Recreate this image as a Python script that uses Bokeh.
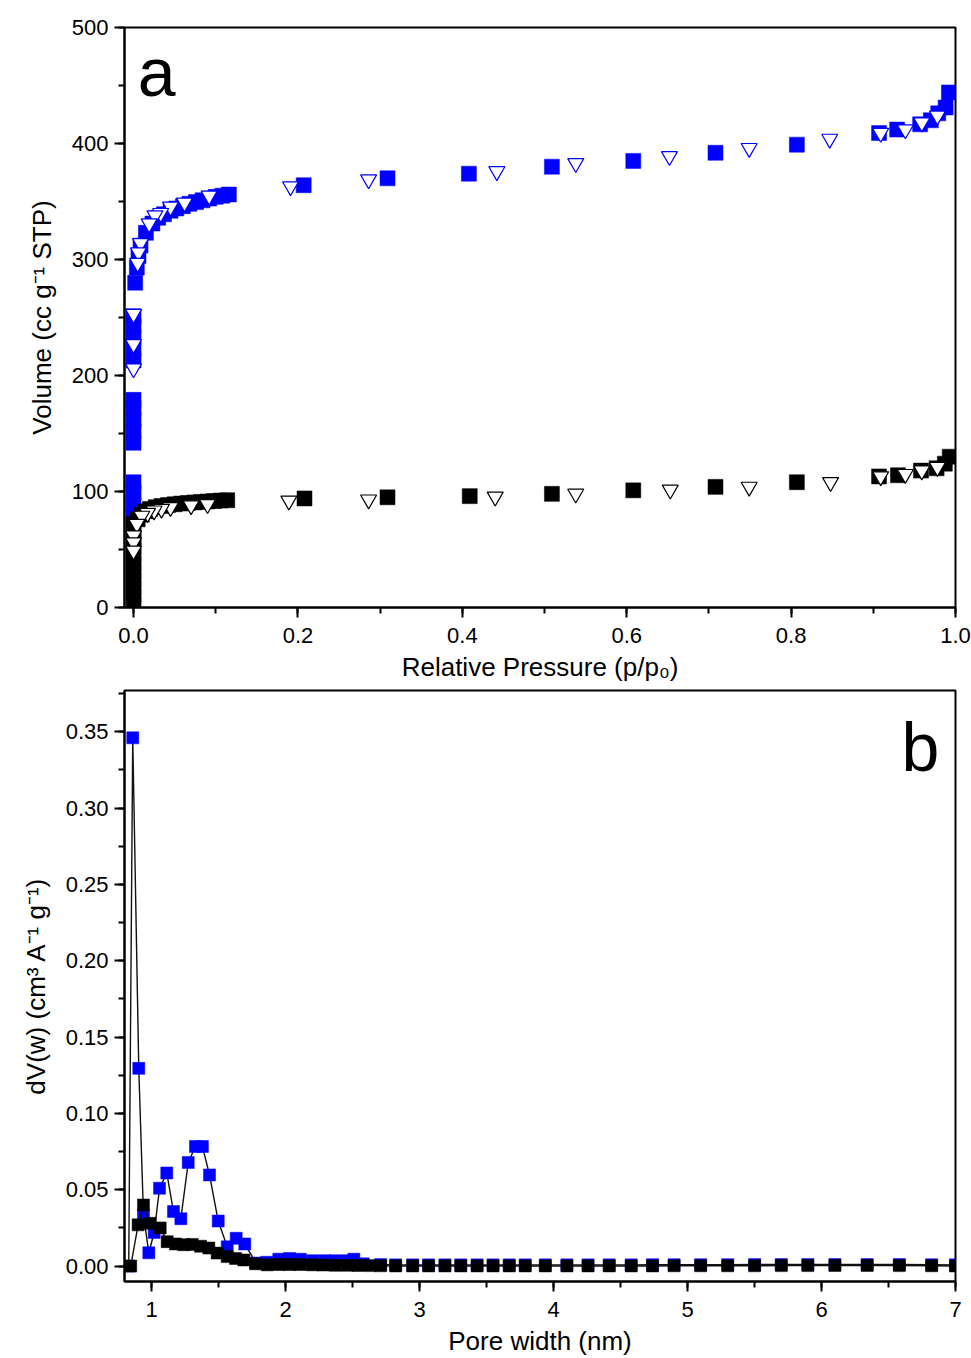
from bokeh.plotting import figure
from bokeh.models import SingleIntervalTicker, Range1d, Label, NumeralTickFormatter
from bokeh.layouts import column
from bokeh.embed import file_html
from bokeh.resources import INLINE

FONT = "Liberation Sans"
BLUE = "#0000FF"

# ---------------- Panel a: N2 isotherms ----------------
blue_ads_p = [0, 0, 0, 0, 0, 0, 0, 0, 0, 0, 0, 0, 0, 0,
              0.002, 0.004, 0.006, 0.0085, 0.015, 0.023, 0.03, 0.037, 0.045, 0.052,
              0.06, 0.068, 0.076, 0.084, 0.092, 0.1, 0.108, 0.116,
              0.207, 0.309, 0.408, 0.509, 0.608, 0.708, 0.807, 0.907, 0.929, 0.957,
              0.97, 0.979, 0.988, 0.992]
blue_ads_v = [79, 89, 99, 108, 142, 152, 162, 172, 179, 213, 223, 233, 243, 251,
              280, 293, 303, 312, 323, 331, 336, 339, 342, 344,
              346, 348, 349.5, 351, 352.5, 354, 355, 356,
              364, 370, 374, 380, 385, 392, 399, 409, 412, 416.5,
              420, 426, 431, 444]

blue_des_p = [0.978, 0.959, 0.939, 0.909, 0.847, 0.749, 0.652, 0.538, 0.442, 0.286,
              0.191, 0.092, 0.062, 0.045, 0.033, 0.026, 0.019, 0.0085, 0.006, 0.005,
              0.0, 0.0, 0.0]
blue_des_v = [424, 418, 412, 409, 404, 396, 389, 383, 376, 369,
              363, 355, 349, 345.5, 340, 338, 331, 314, 306, 297,
              253, 227, 206]

black_ads_p = [0, 0, 0, 0, 0, 0, 0, 0, 0, 0, 0,
               0.005, 0.01, 0.015, 0.02, 0.027, 0.034, 0.042, 0.05, 0.058, 0.066,
               0.074, 0.082, 0.09, 0.098, 0.106, 0.114,
               0.208, 0.309, 0.409, 0.509, 0.608, 0.708, 0.807, 0.907, 0.93, 0.958,
               0.977, 0.987, 0.993]
black_ads_v = [3, 10, 17, 24, 31, 38, 45, 52, 59, 66, 72,
               76, 80, 83, 85, 86.5, 87.5, 88.3, 89, 89.6, 90.1,
               90.6, 91, 91.4, 91.8, 92.2, 92.5,
               94, 95, 96, 98, 101, 104, 108, 113, 114, 118,
               120, 124, 130]

black_des_p = [0.978, 0.959, 0.939, 0.909, 0.848, 0.749, 0.653, 0.538, 0.44, 0.286,
               0.189, 0.09, 0.07, 0.045, 0.034, 0.025, 0.017, 0.01, 0.004,
               0.0, 0.0, 0.0]
black_des_v = [121, 118, 115, 113, 108, 104, 101.5, 98, 95.5, 93,
               92, 89, 88, 86.5, 85, 83.5, 81.5, 79, 72,
               62, 56, 49]

# ---------------- Panel b: pore size distribution ----------------
blue_w = [0.83, 0.86, 0.905, 0.94, 0.98, 1.02, 1.06, 1.114, 1.164, 1.219,
          1.274, 1.328, 1.38, 1.433, 1.498, 1.565, 1.632, 1.696, 1.78, 1.86,
          1.95, 2.03, 2.11, 2.2, 2.29, 2.37, 2.46, 2.51, 2.58, 2.71,
          2.822, 2.949, 3.068, 3.19, 3.308, 3.43, 3.549, 3.67, 3.789, 3.939,
          4.1, 4.258, 4.416, 4.58, 4.739, 4.9, 5.098, 5.3, 5.501, 5.7,
          5.898, 6.1, 6.341, 6.581, 6.822, 7.0]
blue_dv = [0.0, 0.346, 0.1295, 0.0335, 0.0087, 0.022, 0.051, 0.061, 0.0357, 0.031,
           0.0678, 0.0783, 0.0783, 0.0597, 0.0295, 0.0126, 0.0182, 0.0145, 0.002, 0.0025,
           0.0045, 0.005, 0.0045, 0.0035, 0.0035, 0.0035, 0.0035, 0.0045, 0.0015, 0.001,
           0.0008, 0.0008, 0.0008, 0.0008, 0.0008, 0.0008, 0.0008, 0.0008, 0.0008, 0.0008,
           0.0008, 0.0008, 0.0008, 0.0008, 0.0009, 0.0009, 0.0009, 0.0009, 0.001, 0.001,
           0.001, 0.001, 0.001, 0.001, 0.0009, 0.0008]

black_w = [0.845, 0.90, 0.94, 0.99, 1.065, 1.117, 1.179, 1.241, 1.304, 1.366,
           1.428, 1.49, 1.565, 1.627, 1.689, 1.776, 1.863, 1.95, 2.03, 2.11,
           2.2, 2.28, 2.37, 2.46, 2.54, 2.63, 2.71, 2.822, 2.949, 3.068,
           3.19, 3.308, 3.43, 3.549, 3.67, 3.789, 3.939, 4.1, 4.258, 4.416,
           4.58, 4.739, 4.9, 5.098, 5.3, 5.501, 5.7, 5.898, 6.1, 6.341,
           6.581, 6.822, 7.0]
black_dv = [0.0, 0.027, 0.040, 0.028, 0.025, 0.016, 0.0145, 0.014, 0.0142, 0.013,
            0.0118, 0.0085, 0.0062, 0.005, 0.004, 0.0015, 0.0008, 0.001, 0.001, 0.001,
            0.0008, 0.0007, 0.0005, 0.0005, 0.0004, 0.0003, 0.0002, 0.0001, 0.0001, 0.0001,
            0.0001, 0.0001, 0.0001, 0.0001, 0.0001, 0.0001, 0.0001, 0.0001, 0.0001, 0.0001,
            0.0001, 0.0001, 0.0002, 0.0002, 0.0002, 0.0002, 0.0003, 0.0003, 0.0004, 0.0004,
            0.0003, 0.0002, 0.0001]


def style(p):
    p.outline_line_color = "black"
    p.outline_line_width = 2
    p.xgrid.visible = False
    p.ygrid.visible = False
    p.background_fill_color = "white"
    p.border_fill_color = "white"
    for ax in p.axis:
        ax.axis_line_width = 2
        ax.major_tick_line_width = 2
        ax.minor_tick_line_width = 2
        ax.major_tick_out = 10
        ax.major_tick_in = 0
        ax.minor_tick_out = 6
        ax.minor_tick_in = 0
        ax.major_label_text_font = FONT
        ax.major_label_text_font_size = "22px"
        ax.major_label_text_color = "black"
        ax.axis_label_text_font = FONT
        ax.axis_label_text_font_size = "26px"
        ax.axis_label_text_font_style = "normal"
        ax.axis_label_text_color = "black"
    p.xaxis.major_label_standoff = 10
    p.xaxis.axis_label_standoff = 6
    p.yaxis.major_label_standoff = 6
    p.yaxis.axis_label_standoff = 12


# ---- figure a ----
pa = figure(width=971, height=688, output_backend="svg", toolbar_location=None,
            x_range=Range1d(-0.011, 1.0), y_range=Range1d(0, 500),
            min_border_left=124, min_border_right=16, min_border_top=27, min_border_bottom=81)
pa.xaxis.ticker = SingleIntervalTicker(interval=0.2, num_minor_ticks=2)
pa.yaxis.ticker = SingleIntervalTicker(interval=100, num_minor_ticks=2)
pa.xaxis.formatter = NumeralTickFormatter(format="0.0")
pa.yaxis.formatter = NumeralTickFormatter(format="0")
pa.xaxis.axis_label = "Relative Pressure (p/p\u2080)"
pa.yaxis.axis_label = "Volume (cc g\u207b\u00b9 STP)"
style(pa)

pa.scatter(blue_ads_p, blue_ads_v, marker="square", size=15, fill_color=BLUE, line_color=BLUE, line_width=0.5)
pa.scatter(blue_des_p, blue_des_v, marker="inverted_triangle", size=16, fill_color="white", line_color=BLUE, line_width=1.2)
pa.scatter(black_ads_p, black_ads_v, marker="square", size=15, fill_color="black", line_color="black", line_width=0.5)
pa.scatter(black_des_p, black_des_v, marker="inverted_triangle", size=16, fill_color="white", line_color="black", line_width=1.2)
pa.add_layout(Label(x=0.028, y=462, text="a", text_font=FONT, text_font_size="68px",
                    text_align="center", text_baseline="alphabetic", text_color="black"))

# ---- figure b ----
pb = figure(width=971, height=670, output_backend="svg", toolbar_location=None,
            x_range=Range1d(0.7985, 7.0), y_range=Range1d(-0.0101, 0.377),
            min_border_left=124, min_border_right=16, min_border_top=2, min_border_bottom=77)
pb.xaxis.ticker = SingleIntervalTicker(interval=1, num_minor_ticks=2)
pb.yaxis.ticker = SingleIntervalTicker(interval=0.05, num_minor_ticks=2)
pb.xaxis.formatter = NumeralTickFormatter(format="0")
pb.yaxis.formatter = NumeralTickFormatter(format="0.00")
pb.xaxis.axis_label = "Pore width (nm)"
pb.yaxis.axis_label = "dV(w) (cm\u00b3 A\u207b\u00b9 g\u207b\u00b9)"
style(pb)

pb.line(blue_w, blue_dv, line_color="#111111", line_width=1.4)
pb.scatter(blue_w, blue_dv, marker="square", size=12, fill_color=BLUE, line_color=BLUE, line_width=0.5)
pb.line(black_w, black_dv, line_color="#111111", line_width=1.4)
pb.scatter(black_w, black_dv, marker="square", size=12, fill_color="black", line_color="black", line_width=0.5)
pb.add_layout(Label(x=6.739, y=0.3398, text="b", text_font=FONT, text_font_size="68px",
                    text_align="center", text_baseline="alphabetic", text_color="black"))

layout = column(pa, pb, spacing=0)
open("out.html", "w").write(file_html(layout, INLINE))
